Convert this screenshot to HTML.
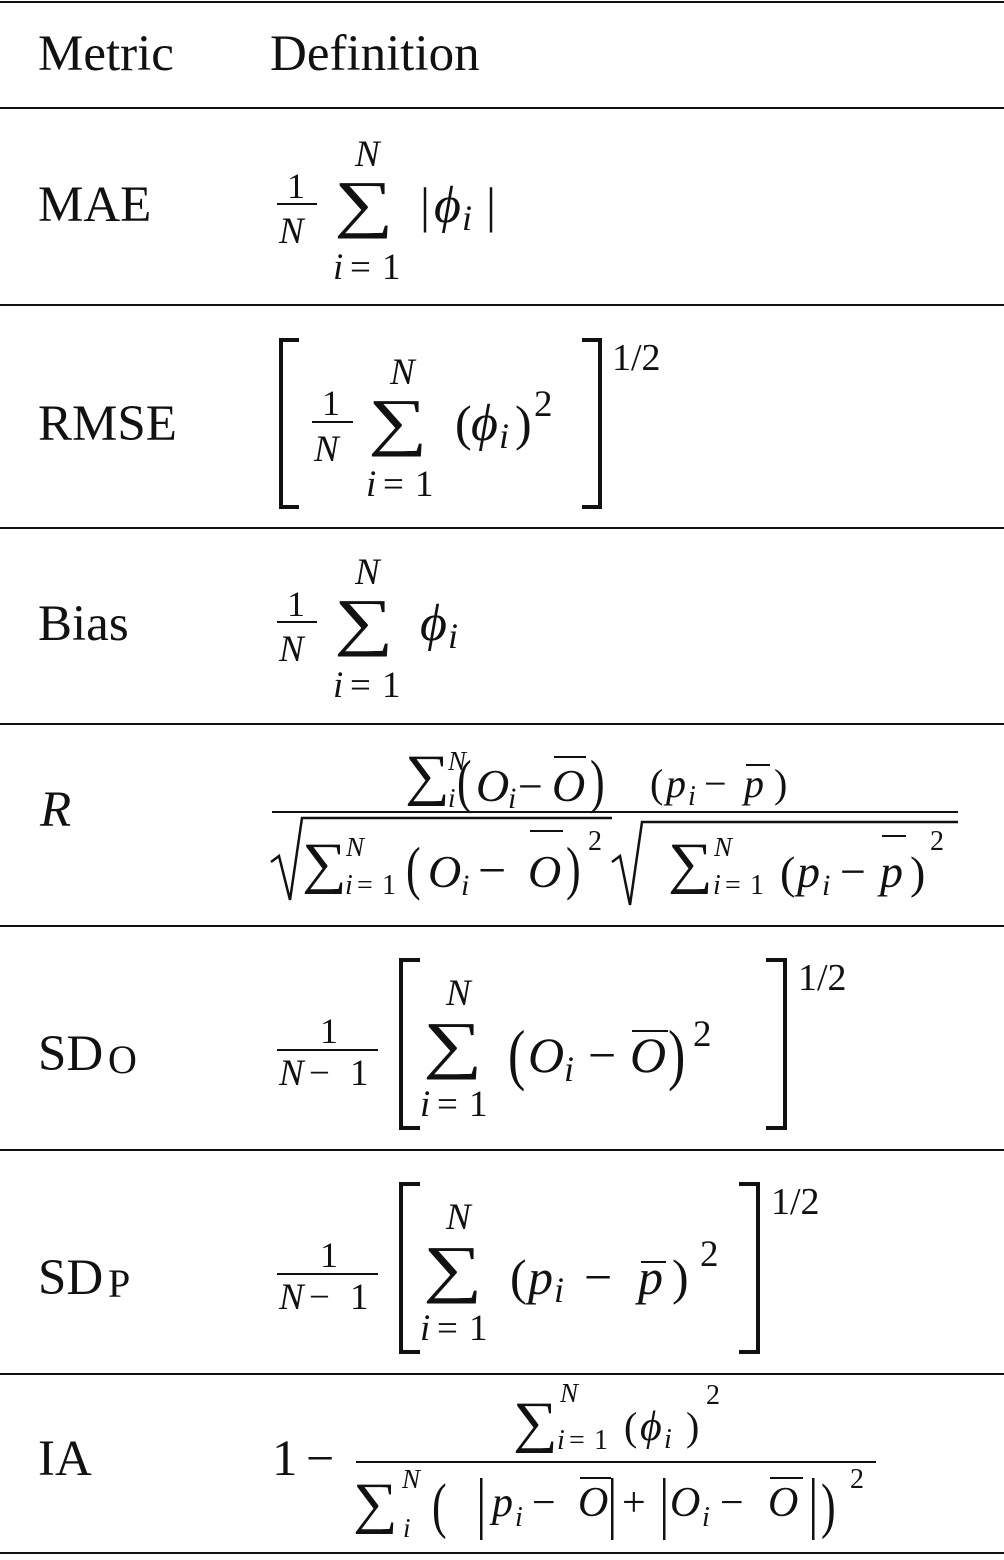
<!DOCTYPE html>
<html><head><meta charset="utf-8"><style>
html,body{margin:0;padding:0;background:#fff}
body{width:1004px;height:1555px;overflow:hidden;font-family:"Liberation Serif",serif}
svg, svg text, svg tspan{font-family:"Liberation Serif","Times New Roman",serif !important}
svg text{fill:#111}
.it{font-style:italic}
</style></head><body>
<svg width="1004" height="1555" viewBox="0 0 1004 1555" xmlns="http://www.w3.org/2000/svg" font-family="Liberation Serif, serif" style="font-family:'Liberation Serif',serif">
<g fill="#111">
<rect x="0" y="1" width="1004" height="2"/>
<rect x="0" y="107" width="1004" height="2"/>
<rect x="0" y="304" width="1004" height="2"/>
<rect x="0" y="527" width="1004" height="2"/>
<rect x="0" y="723" width="1004" height="2"/>
<rect x="0" y="925" width="1004" height="2"/>
<rect x="0" y="1149" width="1004" height="2"/>
<rect x="0" y="1373" width="1004" height="2"/>
<rect x="0" y="1552" width="1004" height="2"/>
</g>
<g font-family="Liberation Serif, serif">
<!-- header -->
<text x="38" y="70" font-size="51">Metric</text>
<text x="270" y="70" font-size="51">Definition</text>

<!-- MAE -->
<text x="38" y="221" font-size="51">MAE</text>
<text x="287" y="198" font-size="36">1</text>
<rect x="277" y="203" width="40" height="2" fill="#111"/>
<text class="it" x="279" y="243" font-size="37">N</text>
<text transform="translate(334,225) scale(1.3,1)" font-size="64">∑</text>
<text class="it" x="355" y="166" font-size="37">N</text>
<text class="it" x="333" y="279" font-size="37">i</text>
<text x="350" y="279" font-size="37">=</text>
<text x="382" y="279" font-size="37">1</text>
<text x="420" y="222" font-size="50">|</text>
<text class="it" x="434" y="222" font-size="52">ϕ</text>
<text class="it" x="462" y="230" font-size="36">i</text>
<text x="486" y="222" font-size="50">|</text>

<!-- RMSE -->
<text x="38" y="440" font-size="51">RMSE</text>
<path d="M299,340 H281 V507 H299" fill="none" stroke="#111" stroke-width="4"/>
<path d="M582,340 H600 V507 H582" fill="none" stroke="#111" stroke-width="4"/>
<text x="612" y="370" font-size="38">1/2</text>
<text x="322" y="415" font-size="36">1</text>
<rect x="312" y="421" width="41" height="2" fill="#111"/>
<text class="it" x="314" y="461" font-size="37">N</text>
<text transform="translate(368,443) scale(1.3,1)" font-size="64">∑</text>
<text class="it" x="390" y="384" font-size="37">N</text>
<text class="it" x="366" y="496" font-size="37">i</text>
<text x="383" y="496" font-size="37">=</text>
<text x="415" y="496" font-size="37">1</text>
<text x="455" y="440" font-size="50">(</text>
<text class="it" x="471" y="440" font-size="52">ϕ</text>
<text class="it" x="499" y="448" font-size="36">i</text>
<text x="515" y="440" font-size="50">)</text>
<text x="534" y="416" font-size="37">2</text>

<!-- Bias -->
<text x="38" y="640" font-size="51">Bias</text>
<text x="287" y="616" font-size="36">1</text>
<rect x="277" y="621" width="40" height="2" fill="#111"/>
<text class="it" x="279" y="661" font-size="37">N</text>
<text transform="translate(334,643) scale(1.3,1)" font-size="64">∑</text>
<text class="it" x="355" y="584" font-size="37">N</text>
<text class="it" x="333" y="697" font-size="37">i</text>
<text x="350" y="697" font-size="37">=</text>
<text x="382" y="697" font-size="37">1</text>
<text class="it" x="420" y="640" font-size="52">ϕ</text>
<text class="it" x="448" y="648" font-size="36">i</text>

<!-- R -->
<text class="it" x="40" y="826" font-size="51">R</text>
<text transform="translate(405,794) scale(1.1,1)" font-size="57">∑</text>
<text class="it" x="448" y="770" font-size="27">N</text>
<text class="it" x="448" y="807" font-size="27">i</text>
<text transform="translate(457,801) scale(1,1.35)" font-size="44">(</text>
<text class="it" x="476" y="801" font-size="46">O</text>
<text class="it" x="508" y="808" font-size="30">i</text>
<text x="518" y="801" font-size="44">−</text>
<text class="it" x="552" y="801" font-size="46">O</text>
<rect x="554" y="756" width="32" height="2" fill="#111"/>
<text transform="translate(590,801) scale(1,1.35)" font-size="44">)</text>
<text x="650" y="797" font-size="40">(</text>
<text class="it" x="666" y="797" font-size="40">p</text>
<text class="it" x="688" y="805" font-size="28">i</text>
<text x="704" y="797" font-size="40">−</text>
<text class="it" x="744" y="797" font-size="40">p</text>
<rect x="746" y="764" width="24" height="2" fill="#111"/>
<text x="774" y="797" font-size="40">)</text>
<rect x="272" y="811" width="686" height="2" fill="#111"/>
<polyline points="271,862 279,856 290,900 302,818 612,818" fill="none" stroke="#111" stroke-width="2.5"/>
<polyline points="612,862 620,856 630,905 642,822 958,822" fill="none" stroke="#111" stroke-width="2.5"/>
<text transform="translate(302,882) scale(1.1,1)" font-size="57">∑</text>
<text class="it" x="346" y="856" font-size="27">N</text>
<text class="it" x="345" y="894" font-size="28">i</text>
<text x="357" y="894" font-size="28">=</text>
<text x="382" y="894" font-size="28">1</text>
<text transform="translate(406,888) scale(1,1.35)" font-size="44">(</text>
<text class="it" x="428" y="887" font-size="46">O</text>
<text class="it" x="461" y="895" font-size="30">i</text>
<text x="478" y="887" font-size="50">−</text>
<text class="it" x="528" y="887" font-size="46">O</text>
<rect x="530" y="830" width="33" height="2" fill="#111"/>
<text transform="translate(566,888) scale(1,1.35)" font-size="44">)</text>
<text x="588" y="850" font-size="28">2</text>
<text transform="translate(668,882) scale(1.1,1)" font-size="57">∑</text>
<text class="it" x="714" y="856" font-size="27">N</text>
<text class="it" x="713" y="894" font-size="28">i</text>
<text x="725" y="894" font-size="28">=</text>
<text x="750" y="894" font-size="28">1</text>
<text x="780" y="888" font-size="46">(</text>
<text class="it" x="797" y="887" font-size="46">p</text>
<text class="it" x="822" y="895" font-size="30">i</text>
<text x="840" y="887" font-size="46">−</text>
<text class="it" x="880" y="887" font-size="46">p</text>
<rect x="882" y="835" width="24" height="2" fill="#111"/>
<text x="910" y="888" font-size="46">)</text>
<text x="930" y="850" font-size="28">2</text>

<!-- SD_O -->
<text x="38" y="1070" font-size="51">SD</text>
<text x="108" y="1073" font-size="40">O</text>
<text x="320" y="1043" font-size="36">1</text>
<rect x="277" y="1049" width="101" height="2" fill="#111"/>
<text class="it" x="279" y="1085" font-size="37">N</text>
<text x="309" y="1085" font-size="37">−</text>
<text x="350" y="1085" font-size="37">1</text>
<path d="M420,960 H401 V1128 H420" fill="none" stroke="#111" stroke-width="4"/>
<path d="M766,960 H785 V1128 H766" fill="none" stroke="#111" stroke-width="4"/>
<text x="798" y="990" font-size="38">1/2</text>
<text transform="translate(423,1066) scale(1.3,1)" font-size="64">∑</text>
<text class="it" x="446" y="1005" font-size="37">N</text>
<text class="it" x="420" y="1116" font-size="37">i</text>
<text x="437" y="1116" font-size="37">=</text>
<text x="469" y="1116" font-size="37">1</text>
<text transform="translate(508,1077) scale(1,1.3)" font-size="52">(</text>
<text class="it" x="528" y="1072" font-size="50">O</text>
<text class="it" x="564" y="1081" font-size="36">i</text>
<text x="588" y="1072" font-size="50">−</text>
<text class="it" x="630" y="1072" font-size="50">O</text>
<rect x="632" y="1030" width="36" height="2" fill="#111"/>
<text transform="translate(668,1077) scale(1,1.3)" font-size="52">)</text>
<text x="693" y="1046" font-size="37">2</text>

<!-- SD_P -->
<text x="38" y="1294" font-size="51">SD</text>
<text x="108" y="1297" font-size="40">P</text>
<text x="320" y="1267" font-size="36">1</text>
<rect x="277" y="1273" width="101" height="2" fill="#111"/>
<text class="it" x="279" y="1309" font-size="37">N</text>
<text x="309" y="1309" font-size="37">−</text>
<text x="350" y="1309" font-size="37">1</text>
<path d="M420,1184 H401 V1352 H420" fill="none" stroke="#111" stroke-width="4"/>
<path d="M739,1184 H758 V1352 H739" fill="none" stroke="#111" stroke-width="4"/>
<text x="771" y="1214" font-size="38">1/2</text>
<text transform="translate(423,1290) scale(1.3,1)" font-size="64">∑</text>
<text class="it" x="446" y="1229" font-size="37">N</text>
<text class="it" x="420" y="1340" font-size="37">i</text>
<text x="437" y="1340" font-size="37">=</text>
<text x="469" y="1340" font-size="37">1</text>
<text x="510" y="1294" font-size="50">(</text>
<text class="it" x="528" y="1294" font-size="50">p</text>
<text class="it" x="554" y="1302" font-size="36">i</text>
<text x="584" y="1294" font-size="50">−</text>
<text class="it" x="638" y="1294" font-size="50">p</text>
<rect x="641" y="1261" width="25" height="2" fill="#111"/>
<text x="672" y="1294" font-size="50">)</text>
<text x="700" y="1266" font-size="37">2</text>

<!-- IA -->
<text x="38" y="1475" font-size="51">IA</text>
<text x="272" y="1475" font-size="51">1</text>
<text x="306" y="1475" font-size="50">−</text>
<rect x="356" y="1461" width="520" height="2" fill="#111"/>
<text transform="translate(513,1441) scale(1.1,1)" font-size="57">∑</text>
<text class="it" x="560" y="1402" font-size="27">N</text>
<text class="it" x="557" y="1449" font-size="28">i</text>
<text x="569" y="1449" font-size="28">=</text>
<text x="594" y="1449" font-size="28">1</text>
<text x="624" y="1440" font-size="40">(</text>
<text class="it" x="640" y="1440" font-size="42">ϕ</text>
<text class="it" x="664" y="1448" font-size="28">i</text>
<text x="686" y="1440" font-size="40">)</text>
<text x="706" y="1404" font-size="28">2</text>
<text transform="translate(353,1522) scale(1.1,1)" font-size="57">∑</text>
<text class="it" x="402" y="1488" font-size="27">N</text>
<text class="it" x="403" y="1537" font-size="27">i</text>
<text transform="translate(432,1526) scale(1,1.4)" font-size="44">(</text>
<rect x="480" y="1478" width="2.5" height="62" fill="#111"/>
<text class="it" x="492" y="1516" font-size="42">p</text>
<text class="it" x="515" y="1526" font-size="28">i</text>
<text x="532" y="1516" font-size="42">−</text>
<text class="it" x="578" y="1516" font-size="42">O</text>
<rect x="580" y="1477" width="31" height="2" fill="#111"/>
<rect x="611" y="1478" width="2.5" height="62" fill="#111"/>
<text x="622" y="1516" font-size="42">+</text>
<rect x="663" y="1478" width="2.5" height="62" fill="#111"/>
<text class="it" x="670" y="1516" font-size="42">O</text>
<text class="it" x="702" y="1526" font-size="28">i</text>
<text x="720" y="1516" font-size="42">−</text>
<text class="it" x="768" y="1516" font-size="42">O</text>
<rect x="770" y="1477" width="33" height="2" fill="#111"/>
<rect x="812" y="1478" width="2.5" height="62" fill="#111"/>
<text transform="translate(821,1526) scale(1,1.4)" font-size="44">)</text>
<text x="850" y="1488" font-size="28">2</text>
</g>
</svg>
</body></html>
